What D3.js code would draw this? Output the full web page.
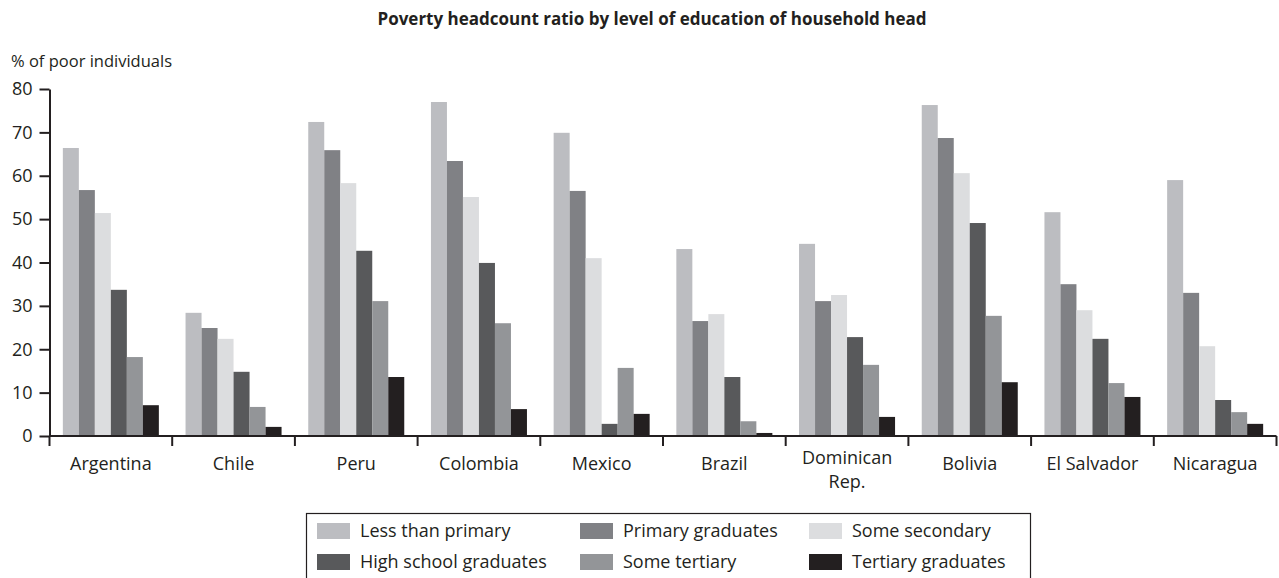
<!DOCTYPE html>
<html>
<head>
<meta charset="utf-8">
<script src="https://cdn.jsdelivr.net/npm/d3@7"></script>
<style>
  html, body { margin: 0; padding: 0; background: #fff; }
  svg { display: block; font-family: "Open Sans", "Noto Sans", sans-serif; }
</style>
</head>
<body>
<svg id="chart" width="1279" height="578"></svg>
<script>
// Countries along the x axis
const countries = ["Argentina", "Chile", "Peru", "Colombia", "Mexico", "Brazil",
                   "Dominican Rep.", "Bolivia", "El Salvador", "Nicaragua"];

// Education level of the household head (one bar per level)
const levels = ["Less than primary", "Primary graduates", "Some secondary",
                "High school graduates", "Some tertiary", "Tertiary graduates"];

// Poverty headcount (% of poor individuals), one array per education level, in country order
const lessThanPrimary   = [66.4, 28.4, 72.4, 77.0, 69.9, 43.1, 44.3, 76.3, 51.6, 59.0];
const primaryGraduates  = [56.7, 24.9, 65.9, 63.4, 56.5, 26.5, 31.1, 68.7, 35.0, 33.0];
const someSecondary     = [51.4, 22.4, 58.3, 55.1, 41.0, 28.1, 32.5, 60.6, 29.0, 20.7];
const highSchoolGrads   = [33.7, 14.8, 42.7, 39.9,  2.8, 13.6, 22.8, 49.1, 22.4,  8.3];
const someTertiary      = [18.2,  6.7, 31.1, 26.0, 15.7,  3.4, 16.4, 27.7, 12.2,  5.5];
const tertiaryGraduates = [ 7.1,  2.1, 13.6,  6.2,  5.1,  0.7,  4.4, 12.4,  9.0,  2.8];

const yTicks = [0, 10, 20, 30, 40, 50, 60, 70, 80];

const seriesValues = [lessThanPrimary, primaryGraduates, someSecondary,
                      highSchoolGrads, someTertiary, tertiaryGraduates];
const colors = ["#bcbdc1", "#808185", "#dcdddf", "#58595b", "#939598", "#231f20"];
const ink = "#231f20";
const font = "Open Sans, Noto Sans, sans-serif";

const svg = d3.select("#chart");

const plot = { left: 49.5, right: 1276.5, top: 89, bottom: 436 };

const x0 = d3.scaleBand().domain(countries).range([plot.left, plot.right]).padding(0);
const x1 = d3.scaleBand().domain(levels).range([0, x0.bandwidth()])
  .paddingInner(0).paddingOuter(0.834);
const y = d3.scaleLinear().domain([0, 80]).range([plot.bottom, plot.top]);
const color = d3.scaleOrdinal().domain(levels).range(colors);

// Title
svg.append("text")
  .attr("x", 652).attr("y", 25)
  .attr("text-anchor", "middle")
  .attr("font-size", 17).attr("font-weight", "bold").attr("fill", ink)
  .text("Poverty headcount ratio by level of education of household head");

// Y axis title
svg.append("text")
  .attr("x", 11).attr("y", 67)
  .attr("font-size", 16.5).attr("fill", ink)
  .text("% of poor individuals");

// Bars
const groups = svg.append("g").selectAll("g")
  .data(countries)
  .join("g")
  .attr("transform", c => `translate(${x0(c)},0)`);

groups.selectAll("rect")
  .data((c, ci) => levels.map((lv, li) => ({ level: lv, value: seriesValues[li][ci] })))
  .join("rect")
  .attr("x", d => x1(d.level))
  .attr("width", x1.bandwidth())
  .attr("y", d => y(d.value))
  .attr("height", d => y(0) - y(d.value))
  .attr("fill", d => color(d.level));

// Y axis
const yAxis = svg.append("g")
  .attr("transform", `translate(${plot.left},0)`)
  .call(d3.axisLeft(y).tickValues(yTicks).tickSize(10).tickSizeOuter(0).tickPadding(7));
yAxis.select(".domain").attr("stroke", ink).attr("stroke-width", 2);
yAxis.selectAll(".tick line").attr("stroke", ink).attr("stroke-width", 2);
yAxis.selectAll(".tick text").attr("font-size", 18).attr("fill", ink)
  .attr("font-family", font);

// X axis: baseline, boundary ticks and country labels
const xAxis = svg.append("g");
xAxis.append("line")
  .attr("x1", plot.left).attr("x2", plot.right)
  .attr("y1", y(0)).attr("y2", y(0))
  .attr("stroke", ink).attr("stroke-width", 2);

const boundaries = countries.map(c => x0(c)).concat([x0(countries[countries.length - 1]) + x0.bandwidth()]);
xAxis.selectAll("line.bound")
  .data(boundaries)
  .join("line")
  .attr("class", "bound")
  .attr("x1", d => d).attr("x2", d => d)
  .attr("y1", y(0)).attr("y2", y(0) + 10)
  .attr("stroke", ink).attr("stroke-width", 2);

// Country labels; long names wrap onto two lines
const labelLines = c => c === "Dominican Rep." ? ["Dominican", "Rep."] : [c];
xAxis.selectAll("g.country")
  .data(countries)
  .join("g")
  .attr("class", "country")
  .each(function (c) {
    const lines = labelLines(c);
    const cx = x0(c) + x0.bandwidth() / 2;
    const top = lines.length > 1 ? 464 : 470;
    d3.select(this).selectAll("text")
      .data(lines)
      .join("text")
      .attr("text-anchor", "middle")
      .attr("font-size", 18).attr("fill", ink)
      .attr("x", cx)
      .attr("y", (d, i) => top + i * 24)
      .text(d => d);
  });

// Legend
const legend = svg.append("g");
const lgBox = { x: 306.5, y: 513.5, w: 724, h: 70 };
legend.append("rect")
  .attr("x", lgBox.x).attr("y", lgBox.y)
  .attr("width", lgBox.w).attr("height", lgBox.h)
  .attr("fill", "none").attr("stroke", ink).attr("stroke-width", 1.2);

const colX = [317, 580, 809];
const rowY = [523, 554];
const items = legend.selectAll("g.item")
  .data(levels)
  .join("g")
  .attr("class", "item")
  .attr("transform", (d, i) => `translate(${colX[i % 3]},${rowY[Math.floor(i / 3)]})`);

items.append("rect")
  .attr("width", 33).attr("height", 16)
  .attr("fill", d => color(d));
items.append("text")
  .attr("x", 43).attr("y", 14)
  .attr("font-size", 18).attr("fill", ink)
  .text(d => d);
</script>
</body>
</html>
